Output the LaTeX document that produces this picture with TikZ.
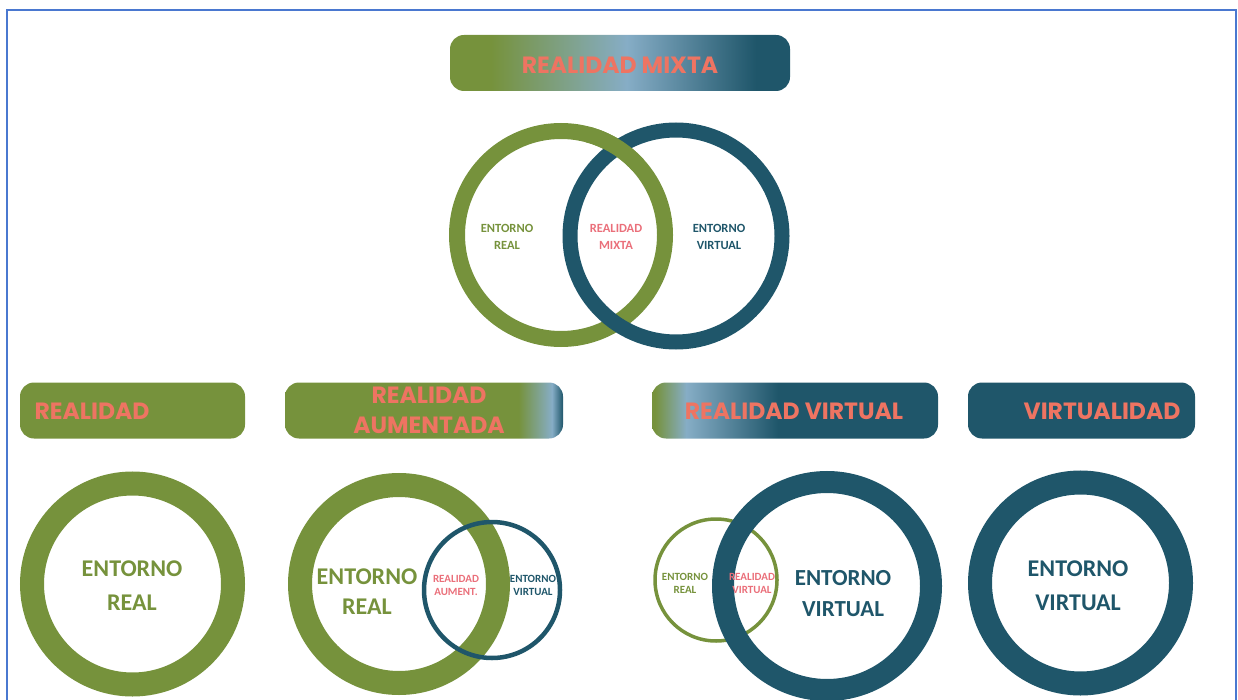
\documentclass[tikz,border=0pt]{standalone}
\usepackage{fontspec}
\setmainfont{Carlito}
\newfontfamily\bannerfont{Poppins}
\usetikzlibrary{positioning}

\definecolor{mrgreen}{HTML}{76923C}
\definecolor{mrteal}{HTML}{1F566A}
\definecolor{mrlight}{HTML}{86ADC6}
\definecolor{mrpink}{HTML}{EA6F7A}
\definecolor{mrsalmon}{HTML}{EE7462}
\definecolor{mrframe}{HTML}{4A78D0}

% banner gradients (path runs from 25bp to 75bp)
\pgfdeclarehorizontalshading{mixta}{100bp}{color(0bp)=(mrgreen); color(31bp)=(mrgreen); color(51bp)=(mrlight); color(70bp)=(mrteal); color(100bp)=(mrteal)}
\pgfdeclarehorizontalshading{aumentada}{100bp}{color(0bp)=(mrgreen); color(67bp)=(mrgreen); color(73bp)=(mrlight); color(75bp)=(mrteal); color(100bp)=(mrteal)}
\pgfdeclarehorizontalshading{virtual}{100bp}{color(0bp)=(mrgreen); color(25.5bp)=(mrgreen); color(31bp)=(mrlight); color(47bp)=(mrteal); color(100bp)=(mrteal)}

\begin{document}
\begin{tikzpicture}[x=1pt, y=-1pt,
    banner/.style={rounded corners=14pt, minimum height=56pt, inner sep=0pt},
    btext/.style={text=mrsalmon, font=\bannerfont\bfseries\fontsize{23.5}{30}\selectfont, align=center},
    big/.style={font=\bfseries\fontsize{24}{34}\selectfont, align=center},
    small/.style={font=\bfseries\fontsize{11}{13}\selectfont, align=center},
    mid/.style={font=\bfseries\fontsize{12.5}{17}\selectfont, align=center}]
    \clip (0,0) rectangle (1238,700);
    \draw [mrframe, line width=2.5pt] (7,720) -- (7,10) -- (1236,10) -- (1236,720);

    % Top: mixed reality
    \node [banner, shading=mixta, minimum width=340pt] (bmixta) at (620,63) {};
    \node [btext] (tmixta) at (620,65) {REALIDAD MIXTA};
    \draw [mrgreen, line width=16pt] (561,235) circle [radius=104];
    \draw [mrteal, line width=15pt] (676,236) circle [radius=106];
    \draw [mrgreen, line width=16pt] (561,235) ++(-75:104) arc [start angle=-75, end angle=-42, radius=104];
    \node [mid, text=mrgreen] (mreal) at (507,237) {ENTORNO\\REAL};
    \node [mid, text=mrpink] (mmix) at (616,237) {REALIDAD\\MIXTA};
    \node [mid, text=mrteal] (mvirt) at (719,237) {ENTORNO\\VIRTUAL};

    % Banners
    \node [banner, fill=mrgreen, minimum width=225pt] (breal) at (132.5,410.5) {};
    \node [banner, shading=aumentada, minimum width=278pt] (baum) at (424,410.5) {};
    \node [banner, shading=virtual, minimum width=286pt] (bvr) at (795,410.5) {};
    \node [banner, fill=mrteal, minimum width=227pt] (bvirt) at (1081.5,410.5) {};
    \node [btext] (treal) at (92,411) {REALIDAD};
    \node [btext] (taum) at (429,410) {REALIDAD\\AUMENTADA};
    \node [btext] (tvr) at (794,411) {REALIDAD VIRTUAL};
    \node [btext] (tvirt) at (1102,411) {VIRTUALIDAD};

    % Real environment
    \draw [mrgreen, line width=24pt] (132.5,584) circle [radius=100.5];
    \node [big, text=mrgreen] (creal) at (132,586) {ENTORNO\\REAL};

    % Augmented reality
    \draw [mrgreen, line width=24pt] (399,584) circle [radius=99];
    \draw [mrteal, line width=4.5pt] (492,590) circle [radius=68];
    \node [big, text=mrgreen, font=\bfseries\fontsize{24}{30}\selectfont] (areal) at (367,592) {ENTORNO\\REAL};
    \node [small, text=mrpink] (aaum) at (456,585) {REALIDAD\\AUMENT.};
    \node [small, text=mrteal] (avirt) at (533,585) {ENTORNO\\VIRTUAL};

    % Virtual reality
    \draw [mrgreen, line width=3.5pt] (716,580) circle [radius=61];
    \draw [mrteal, line width=22pt] (827,586) circle [radius=104];
    \node [small, text=mrgreen] (vreal) at (685,583) {ENTORNO\\REAL};
    \node [small, text=mrpink] (vvr) at (752,583) {REALIDAD\\VIRTUAL};
    \node [big, text=mrteal, font=\bfseries\fontsize{23}{31}\selectfont] (vvirt) at (843,594) {ENTORNO\\VIRTUAL};

    % Virtuality
    \draw [mrteal, line width=24pt] (1080.5,583) circle [radius=100.5];
    \node [big, text=mrteal] (cvirt) at (1078,586) {ENTORNO\\VIRTUAL};
\end{tikzpicture}
\end{document}
